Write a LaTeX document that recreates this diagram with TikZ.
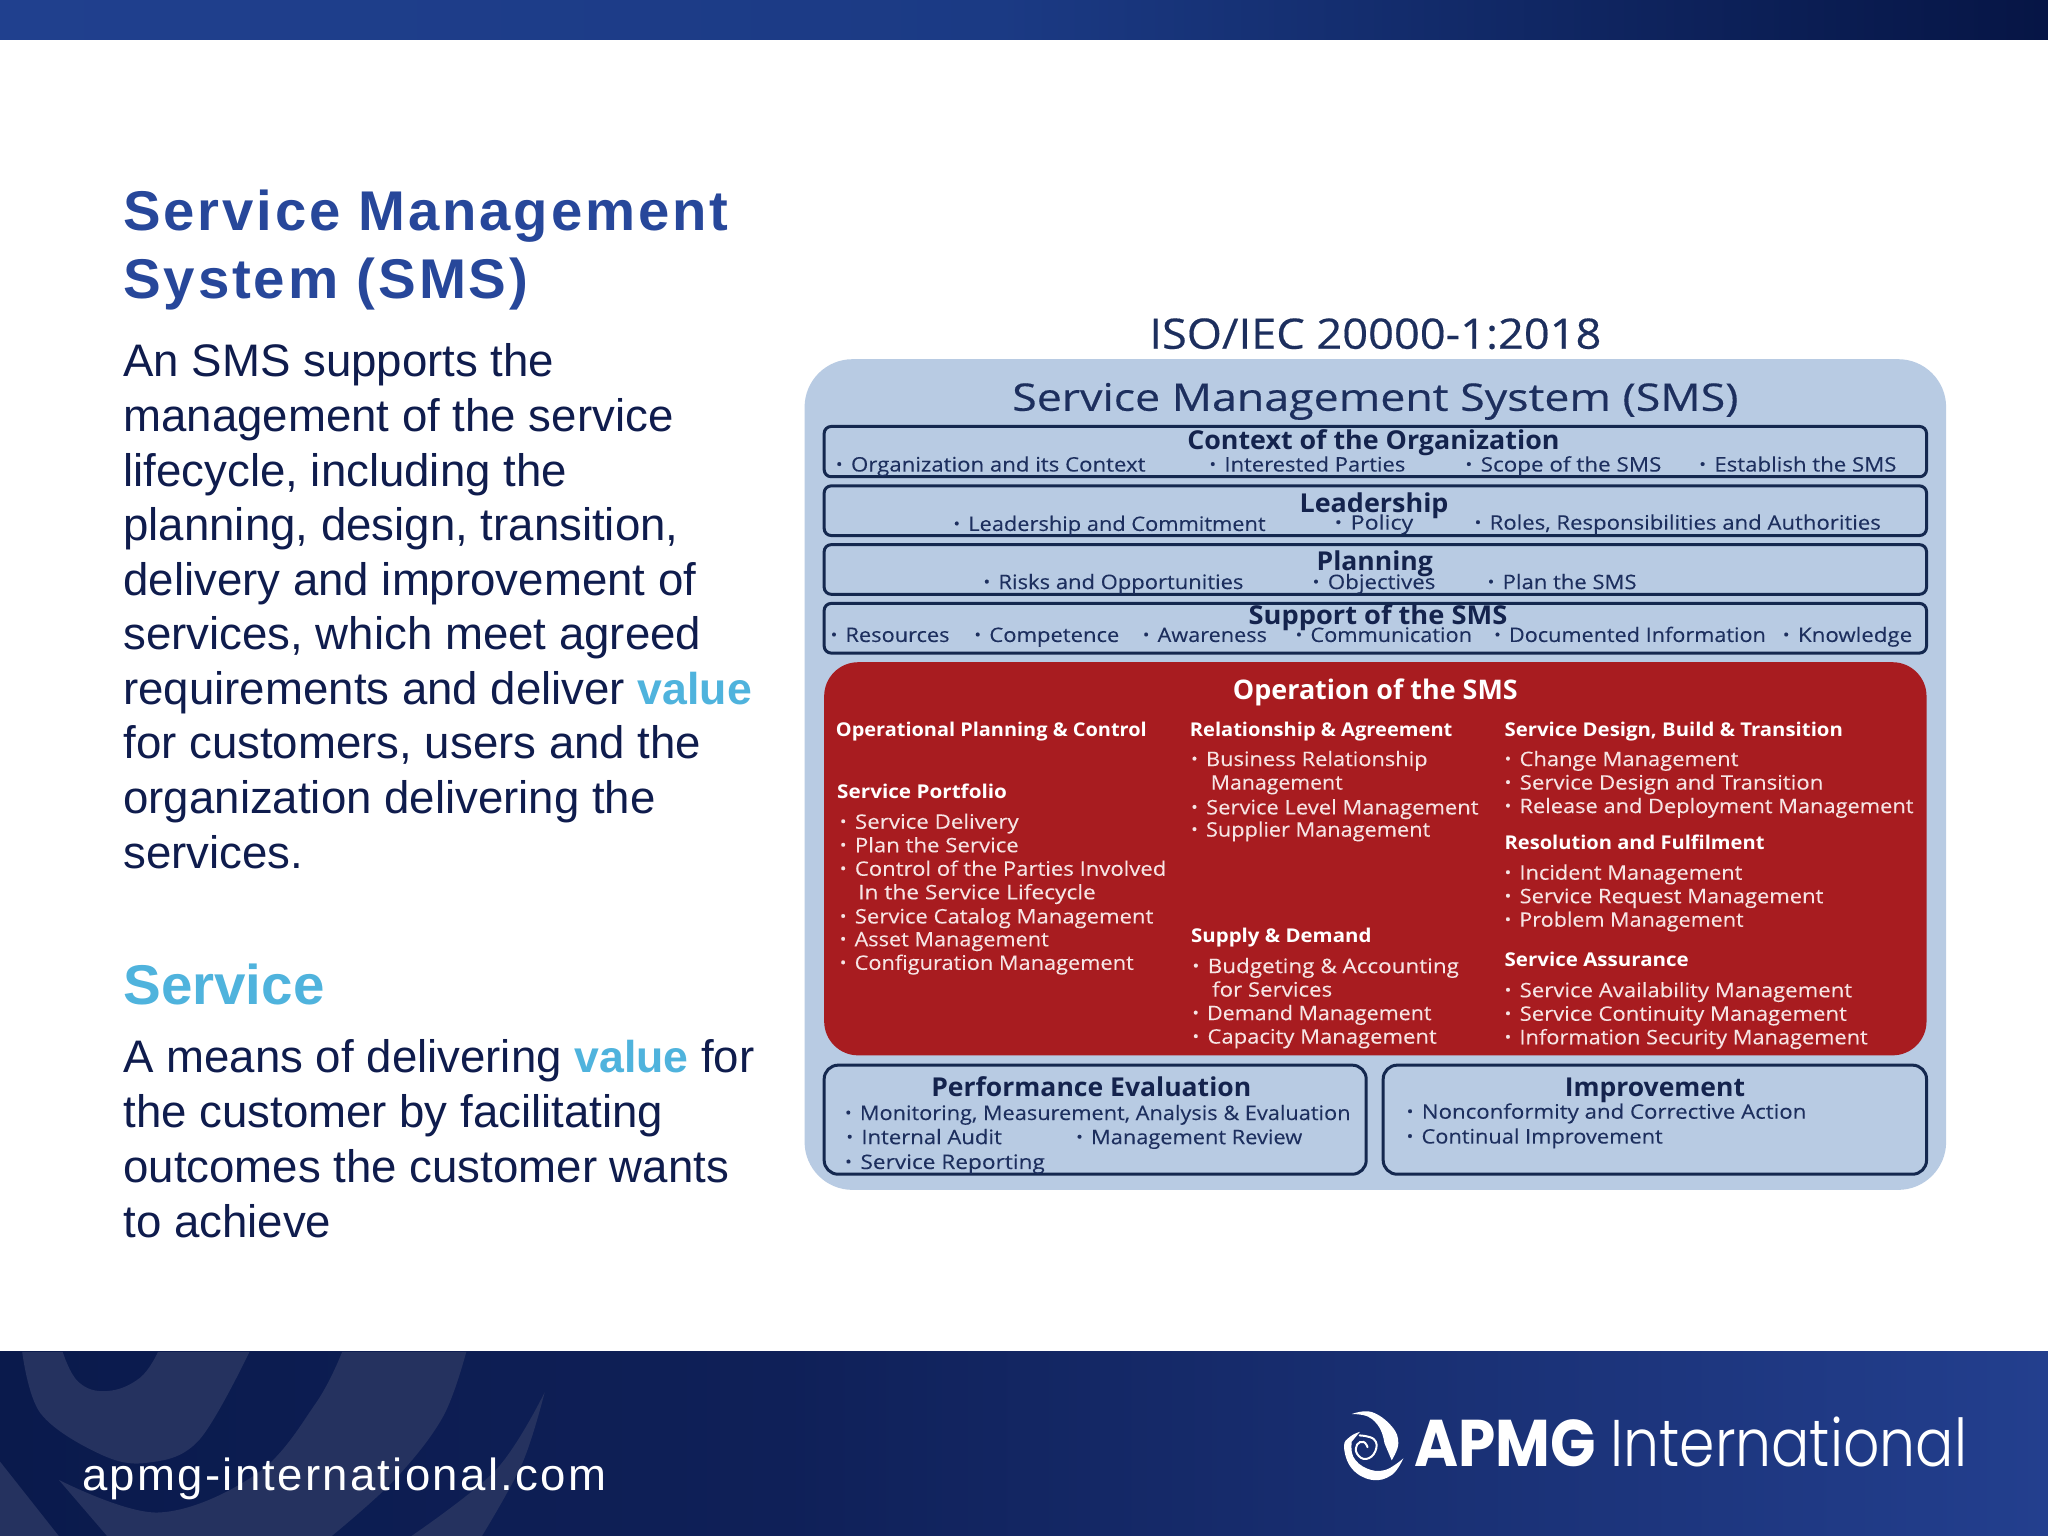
\documentclass[tikz,border=0pt]{standalone}
\usepackage{fontspec}
\usepackage{graphicx}
\setmainfont{Liberation Sans}
\newfontfamily\pf{Open Sans}[FakeBold=0.12]
\newfontfamily\pfm{Open Sans}[FakeBold=0.35]
\newfontfamily\pfb{Open Sans}[UprightFont=* Bold]
\newfontfamily\lgb{Poppins}[UprightFont=* Bold]
\newfontfamily\lgt{Poppins}[UprightFont=* Light]
\newfontfamily\hd{Liberation Sans}[LetterSpace=5,BoldFont=Liberation Sans Bold]
\definecolor{navy}{HTML}{0F1C4D}
\definecolor{hblue}{HTML}{27479A}
\definecolor{cyanv}{HTML}{4FB3DD}
\definecolor{panel}{HTML}{B8CBE3}
\definecolor{frame}{HTML}{14284F}
\definecolor{redbox}{HTML}{A81C20}
\definecolor{ink}{HTML}{1D2F5E}
\definecolor{inkb}{HTML}{14234D}
\definecolor{pale}{HTML}{F6E4E4}
\definecolor{swirl}{HTML}{25325F}
\definecolor{barA}{HTML}{20408E}
\definecolor{barB}{HTML}{1B3A84}
\definecolor{barC}{HTML}{061545}
\definecolor{footA}{HTML}{0A1A4C}
\definecolor{footB}{HTML}{0F2058}
\definecolor{footC}{HTML}{233F8E}
\newsavebox\fb
\newcommand{\fitw}[2]{\sbox\fb{#2}\pgfmathsetmacro\rr{#1*1.30612/\wd\fb}\scalebox{\rr}[1]{\usebox\fb}}
\newcommand{\bu}{\raisebox{.08em}{\scalebox{.8}{•}}\hspace{.38em}}
\tikzset{
 tx/.style={anchor=base west,inner sep=0pt,outer sep=0pt},
 body/.style={tx,text=navy,font=\fontsize{45.6}{54.6}\selectfont},
 head/.style={tx,text=hblue,font=\hd\fontsize{56}{68}\selectfont\bfseries},
 item/.style={tx,text=ink,font=\pf\fontsize{20}{22}\selectfont},
 ritem/.style={tx,text=pale,font=\pf\fontsize{20}{22}\selectfont},
 title/.style={tx,text=inkb,font=\pfb\fontsize{26}{28}\selectfont},
 rhead/.style={tx,text=white,font=\pfb\fontsize{19}{20}\selectfont},
 rowbox/.style={draw=frame,line width=3pt,rounded corners=7pt}
}
\newcommand{\val}{\textcolor{cyanv}{\fontsize{44.6}{54.6}\selectfont\textbf{value}}}
\begin{document}
\begin{tikzpicture}[x=1.30612pt,y=-1.30612pt]
\useasboundingbox (0,0) rectangle (1568,1176);
\fill[white] (0,0) rectangle (1568,1176);
% top bar
\fill[left color=barA,right color=barB] (0,0) rectangle (766,30);
\fill[left color=barB,right color=barC] (765,0) rectangle (1568,30);
% bottom band
\fill[left color=footA,right color=footB] (0,1035) rectangle (601,1176);
\fill[left color=footB,right color=footC] (600,1035) rectangle (1568,1176);
% background swirl
\fill[swirl] plot[smooth,tension=.6] coordinates {(17,1035) (31,1082) (76,1113) (112,1120) (152,1103) (191,1035)} -- plot[smooth,tension=.7] coordinates {(121,1035) (107,1055) (82,1065) (60,1058) (48,1035)} -- cycle;
\fill[swirl] plot[smooth,tension=.6] coordinates {(262,1035) (242,1074) (197,1128) (121,1158) (45,1133)} -- (82,1176) -- plot[smooth,tension=.6] coordinates {(254,1176) (302,1133) (339,1085) (357,1035)} -- cycle;
\fill[swirl] plot[smooth,tension=.6] coordinates {(417,1066) (380,1125) (315,1176)} -- plot[smooth,tension=.6] coordinates {(369,1176) (400,1120) (417,1066)} -- cycle;
\fill[swirl] (0,1119) -- (45,1176) -- (0,1176) -- cycle;
% footer texts
\node[tx,text=white,font=\fontsize{45}{50}\selectfont] (url) at (63,1141.5) {\fitw{401}{\addfontfeatures{LetterSpace=5}apmg-international.com}};
% logo
\fill[white] plot[smooth,tension=.7] coordinates {(1035,1082.6) (1050,1081) (1065.5,1092) (1070.6,1105) (1065.5,1118)} -- plot[smooth,tension=.7] coordinates {(1060,1105) (1056.5,1093.6) (1047.6,1084.7) (1035,1082.6)} -- cycle;
\fill[white] plot[smooth,tension=.7] coordinates {(1074.4,1116.6) (1065.5,1129.3) (1050.2,1133) (1034.9,1124.2) (1029,1107.6) (1033.6,1100) (1041.2,1096.2)} -- plot[smooth,tension=.7] coordinates {(1034.9,1103.8) (1036.1,1115.3) (1046.3,1124.2) (1060.4,1125.5) (1074.4,1116.6)} -- cycle;
\draw[white,line width=2pt,line cap=round] plot[smooth,tension=.8] coordinates {(1041,1099) (1052,1102) (1053,1111) (1046,1117) (1039,1113) (1039,1106) (1044,1104) (1047,1108)};
\node[tx,text=white,font=\lgb\fontsize{66}{70}\selectfont] (apmg) at (1083,1123) {\fitw{139}{APMG}};
\node[tx,text=white,font=\lgt\fontsize{66}{70}\selectfont] (intl) at (1233,1123) {\fitw{273}{International}};
% left column
\node[head] (h1) at (94.5,176.5) {\fitw{463}{Service Management}};
\node[head] (h2) at (94.5,228.5) {\fitw{310}{System (SMS)}};
\node[body] (b1) at (94.5,288.5) {An SMS supports the};
\node[body] (b2) at (94.5,330.3) {management of the service};
\node[body] (b3) at (94.5,372.1) {lifecycle, including the};
\node[body] (b4) at (94.5,413.9) {planning, design, transition,};
\node[body] (b5) at (94.5,455.7) {delivery and improvement of};
\node[body] (b6) at (94.5,497.5) {services, which meet agreed};
\node[body] (b7) at (94.5,539.3) {requirements and deliver \val};
\node[body] (b8) at (94.5,581.1) {for customers, users and the};
\node[body] (b9) at (94.5,622.9) {organization delivering the};
\node[body] (b10) at (94.5,664.7) {services.};
\node[tx,text=cyanv,font=\fontsize{56}{68}\selectfont\bfseries] (h3) at (94.5,769) {\fitw{154}{Service}};
\node[body] (c1) at (94.5,821.5) {A means of delivering \val{} for};
\node[body] (c2) at (94.5,863.5) {the customer by facilitating};
\node[body] (c3) at (94.5,905.5) {outcomes the customer wants};
\node[body] (c4) at (94.5,947.5) {to achieve};
% panel
\node[tx,text=ink,font=\pfm\fontsize{42}{46}\selectfont] (iso) at (880,267) {\fitw{346}{ISO/IEC 20000-1:2018}};
\fill[panel,rounded corners=48pt] (616,275) rectangle (1490,911);
\node[tx,text=ink,font=\pfm\fontsize{38}{42}\selectfont] (sms) at (775,314.5) {\fitw{556}{Service Management System (SMS)}};
\draw[rowbox] (631,326.5) rectangle (1475,365);
\draw[rowbox] (631,372) rectangle (1475,410);
\draw[rowbox] (631,417) rectangle (1475,455);
\draw[rowbox] (631,462) rectangle (1475,500);
\fill[redbox,rounded corners=34pt] (631,507) rectangle (1475,808);
\draw[rowbox,rounded corners=14pt] (631,815.5) rectangle (1046,899);
\draw[rowbox,rounded corners=14pt] (1059,815.5) rectangle (1475,899);
% row 1
\node[title] (t1) at (909,344) {\fitw{285}{Context of the Organization}};
\node[item] (a1) at (640,361) {\fitw{237}{\bu Organization and its Context}};
\node[item] (a2) at (926,361) {\fitw{150}{\bu Interested Parties}};
\node[item] (a3) at (1122,361) {\fitw{150}{\bu Scope of the SMS}};
\node[item] (a4) at (1301,361) {\fitw{151}{\bu Establish the SMS}};
% row 2
\node[title] (t2) at (995,392) {\fitw{114}{Leadership}};
\node[item] (l1) at (730,406.5) {\fitw{239}{\bu Leadership and Commitment}};
\node[item] (l2) at (1022,405.5) {\fitw{60}{\bu Policy}};
\node[item] (l3) at (1129,405.5) {\fitw{311}{\bu Roles, Responsibilities and Authorities}};
% row 3
\node[title] (t3) at (1008,436.5) {\fitw{89}{Planning}};
\node[item] (p1) at (753,451) {\fitw{199}{\bu Risks and Opportunities}};
\node[item] (p2) at (1005,451) {\fitw{94}{\bu Objectives}};
\node[item] (p3) at (1139,451) {\fitw{114}{\bu Plan the SMS}};
% row 4
\node[title] (t4) at (956,478) {\fitw{198}{Support of the SMS}};
\node[item] (s1) at (636,491.5) {\fitw{91}{\bu Resources}};
\node[item] (s2) at (746,491.5) {\fitw{111}{\bu Competence}};
\node[item] (s3) at (875,491.5) {\fitw{95}{\bu Awareness}};
\node[item] (s4) at (992,491.5) {\fitw{135}{\bu Communication}};
\node[item] (s5) at (1144,491.5) {\fitw{208}{\bu Documented Information}};
\node[item] (s6) at (1365,491.5) {\fitw{99}{\bu Knowledge}};
% operation
\node[tx,text=white,font=\pfb\fontsize{27}{28}\selectfont] (op) at (944,535.5) {\fitw{218}{Operation of the SMS}};
\node[rhead] (o1) at (640,563.5) {\fitw{238}{Operational Planning \& Control}};
\node[rhead] (o2) at (911,563.5) {\fitw{201}{Relationship \& Agreement}};
\node[rhead] (o3) at (1152,563.5) {\fitw{259}{Service Design, Build \& Transition}};
\node[rhead] (o4) at (641,611) {\fitw{130}{Service Portfolio}};
\node[ritem] (d1) at (643,634.5) {\fitw{137}{\bu Service Delivery}};
\node[ritem] (d2) at (643,652.5) {\fitw{137}{\bu Plan the Service}};
\node[ritem] (d3) at (643,670.5) {\fitw{250}{\bu Control of the Parties Involved}};
\node[ritem] (d4) at (657,688.5) {\fitw{182}{In the Service Lifecycle}};
\node[ritem] (d5) at (643,707) {\fitw{240}{\bu Service Catalog Management}};
\node[ritem] (d6) at (643,724.5) {\fitw{160}{\bu Asset Management}};
\node[ritem] (d7) at (643,742.5) {\fitw{225}{\bu Configuration Management}};
\node[ritem] (m1) at (912,586.5) {\fitw{181}{\bu Business Relationship}};
\node[ritem] (m2) at (927,604.5) {\fitw{101}{Management}};
\node[ritem] (m3) at (912,623.5) {\fitw{220}{\bu Service Level Management}};
\node[ritem] (m4) at (912,640.5) {\fitw{183}{\bu Supplier Management}};
\node[rhead] (o5) at (912,721.5) {\fitw{138}{Supply \& Demand}};
\node[ritem] (n1) at (913,745) {\fitw{204}{\bu Budgeting \& Accounting}};
\node[ritem] (n2) at (928,763) {\fitw{92}{for Services}};
\node[ritem] (n3) at (913,781) {\fitw{183}{\bu Demand Management}};
\node[ritem] (n4) at (913,799) {\fitw{187}{\bu Capacity Management}};
\node[ritem] (r1) at (1152,586.5) {\fitw{179}{\bu Change Management}};
\node[ritem] (r2) at (1152,604.5) {\fitw{244}{\bu Service Design and Transition}};
\node[ritem] (r3) at (1152,622.5) {\fitw{313}{\bu Release and Deployment Management}};
\node[rhead] (o6) at (1152,650.5) {\fitw{199}{Resolution and Fulfilment}};
\node[ritem] (f1) at (1152,673.5) {\fitw{182}{\bu Incident Management}};
\node[ritem] (f2) at (1152,691.5) {\fitw{244}{\bu Service Request Management}};
\node[ritem] (f3) at (1152,709.5) {\fitw{183}{\bu Problem Management}};
\node[rhead] (o7) at (1152,740) {\fitw{141}{Service Assurance}};
\node[ritem] (g1) at (1152,763.5) {\fitw{266}{\bu Service Availability Management}};
\node[ritem] (g2) at (1152,781.5) {\fitw{262}{\bu Service Continuity Management}};
\node[ritem] (g3) at (1152,799.5) {\fitw{278}{\bu Information Security Management}};
% bottom boxes
\node[title] (pe) at (713,839.5) {\fitw{245}{Performance Evaluation}};
\node[item] (e1) at (647,857.5) {\fitw{387}{\bu Monitoring, Measurement, Analysis \& Evaluation}};
\node[item] (e2) at (648,876) {\fitw{119}{\bu Internal Audit}};
\node[item] (e3) at (824,876) {\fitw{173}{\bu Management Review}};
\node[item] (e4) at (647,895) {\fitw{153}{\bu Service Reporting}};
\node[title] (im) at (1198,839.5) {\fitw{138}{Improvement}};
\node[item] (i1) at (1077,856.5) {\fitw{306}{\bu Nonconformity and Corrective Action}};
\node[item] (i2) at (1077,875.5) {\fitw{196}{\bu Continual Improvement}};
\end{tikzpicture}
\end{document}
